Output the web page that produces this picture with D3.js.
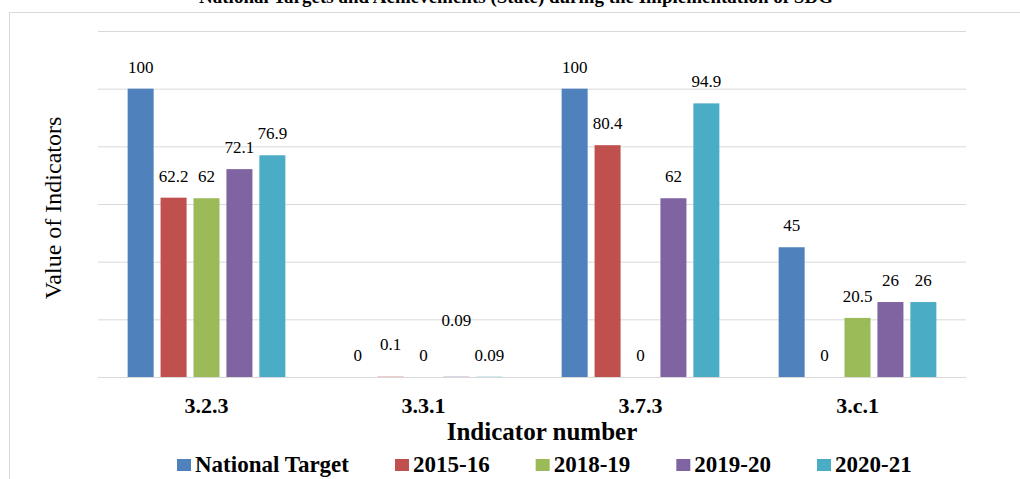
<!DOCTYPE html>
<html>
<head>
	<meta charset="utf-8">
	<title>indicator bar chart</title>
	<script src="https://d3js.org/d3.v7.min.js"></script>
	<style>
		body { margin: 0; background: #fff; }
		svg { display: block; }
		svg text { font-family: 'Liberation Serif', 'Times New Roman', serif; }
	</style>
</head>
<body>
	<svg width="1020" height="479"></svg>
	<script>

		// data
		var indicators = ['3.2.3', '3.3.1', '3.7.3', '3.c.1'];
		var series = ['National Target', '2015-16', '2018-19', '2019-20', '2020-21'];
		var colors = ['#4f81bd', '#c0504d', '#9bbb59', '#8064a2', '#4bacc6'];
		var nationalTarget = [100, 0, 100, 45];
		var y2015 = [62.2, 0.1, 80.4, 0];
		var y2018 = [62, 0, 0, 20.5];
		var y2019 = [72.1, 0.09, 62, 26];
		var y2020 = [76.9, 0.09, 94.9, 26];
		var yTicks = [0, 20, 40, 60, 80, 100, 120];

		var values = [nationalTarget, y2015, y2018, y2019, y2020];

		var svg = d3.select('svg');
		var plotLeft = 98, plotRight = 966, plotTop = 31, plotBottom = 377;

		// chart frame (cut by the page edges)
		svg.append('rect')
			.attr('x', 9.5).attr('y', 12.5)
			.attr('width', 1200).attr('height', 600)
			.attr('fill', 'none')
			.attr('stroke', '#d9d9d9');

		// title, mostly above the visible area
		svg.append('text')
			.attr('x', 516).attr('y', 3)
			.attr('text-anchor', 'middle')
			.attr('font-weight', 'bold')
			.attr('font-size', 19)
			.text('National Targets and Achievements (State) during the Implementation of SDG');

		var x0 = d3.scaleBand().domain(indicators).range([plotLeft, plotRight]);
		var x1 = d3.scaleBand().domain(series).range([0, x0.bandwidth()])
			.paddingInner(0.21).paddingOuter(0.9);
		var y = d3.scaleLinear().domain([0, 120]).range([plotBottom, plotTop]);

		// gridlines
		svg.append('g')
			.attr('transform', 'translate(' + plotLeft + ',0)')
			.call(d3.axisLeft(y).tickValues(yTicks).tickSize(-(plotRight - plotLeft)).tickFormat(''))
			.call(g => g.select('.domain').remove())
			.call(g => g.selectAll('line').attr('stroke', '#d9d9d9'));

		var rows = [];
		indicators.forEach((ind, i) => {
			series.forEach((s, j) => rows.push({ ind: ind, s: s, j: j, v: values[j][i] }));
		});

		svg.append('g').selectAll('rect')
			.data(rows)
			.enter().append('rect')
			.attr('x', d => x0(d.ind) + x1(d.s))
			.attr('y', d => y(d.v))
			.attr('width', x1.bandwidth())
			.attr('height', d => y(0) - y(d.v))
			.attr('fill', d => colors[d.j]);

		// labels that Excel moved to avoid overlap
		var nudge = { '3.3.1|2015-16': 11, '3.3.1|2019-20': 35 };

		svg.append('g').selectAll('text')
			.data(rows)
			.enter().append('text')
			.attr('x', d => x0(d.ind) + x1(d.s) + x1.bandwidth() / 2)
			.attr('y', d => y(d.v) - 16 - (nudge[d.ind + '|' + d.s] || 0))
			.attr('text-anchor', 'middle')
			.attr('font-size', 17)
			.attr('fill', '#000')
			.text(d => d.v);

		// category labels
		svg.append('g')
			.attr('transform', 'translate(0,' + plotBottom + ')')
			.call(d3.axisBottom(x0).tickSize(0).tickPadding(0))
			.call(g => g.select('.domain').remove())
			.call(g => g.selectAll('text')
				.attr('dy', null)
				.attr('y', 36)
				.attr('fill', '#000')
				.attr('font-weight', 'bold')
				.attr('font-size', 22));

		svg.append('text')
			.attr('x', 542).attr('y', 440)
			.attr('text-anchor', 'middle')
			.attr('font-weight', 'bold')
			.attr('font-size', 25)
			.text('Indicator number');

		svg.append('text')
			.attr('transform', 'translate(61,' + ((plotTop + plotBottom) / 2 + 4) + ') rotate(-90)')
			.attr('text-anchor', 'middle')
			.attr('font-size', 24)
			.text('Value of Indicators');

		// legend, laid out left to right
		var legend = svg.append('g');
		var lx = 177;
		series.forEach((s, j) => {
			legend.append('rect')
				.attr('x', lx).attr('y', 459)
				.attr('width', 14).attr('height', 12)
				.attr('fill', colors[j]);
			var t = legend.append('text')
				.attr('x', lx + 18).attr('y', 472)
				.attr('font-weight', 'bold')
				.attr('font-size', 23)
				.text(s);
			lx += 18 + t.node().getComputedTextLength() + 46;
		});

	</script>
</body>
</html>
